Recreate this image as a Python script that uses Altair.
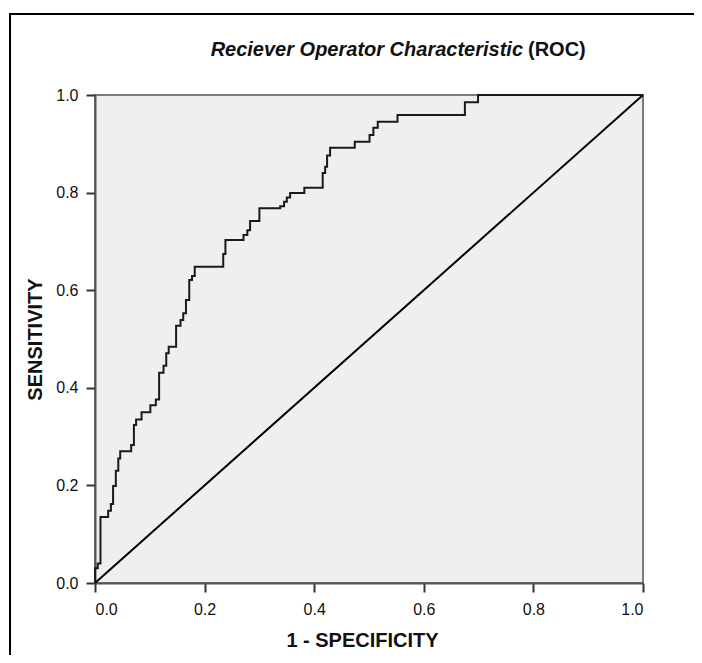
import altair as alt
import pandas as pd

# ROC curve vertices (1 - specificity, sensitivity)
fpr = [0.0, 0.0, 0.005, 0.005, 0.01, 0.01, 0.024, 0.024, 0.029, 0.029, 0.033, 0.033,
       0.038, 0.038, 0.0425, 0.0425, 0.046, 0.046, 0.066, 0.066, 0.071, 0.071, 0.075, 0.075,
       0.085, 0.085, 0.101, 0.101, 0.111, 0.111, 0.117, 0.117, 0.125, 0.125, 0.130, 0.130,
       0.1345, 0.1345, 0.148, 0.148, 0.156, 0.156, 0.161, 0.161, 0.166, 0.166, 0.172, 0.172,
       0.177, 0.177, 0.182, 0.182, 0.234, 0.234, 0.238, 0.238, 0.271, 0.271, 0.278, 0.278,
       0.283, 0.283, 0.300, 0.300, 0.338, 0.338, 0.345, 0.345, 0.350, 0.350, 0.356, 0.356,
       0.382, 0.382, 0.4155, 0.4155, 0.420, 0.420, 0.4235, 0.4235, 0.429, 0.429, 0.474, 0.474,
       0.501, 0.501, 0.508, 0.508, 0.516, 0.516, 0.552, 0.552, 0.675, 0.675, 0.699, 0.699, 1.0]
tpr = [0.0, 0.03, 0.03, 0.04, 0.04, 0.135, 0.135, 0.148, 0.148, 0.162, 0.162, 0.199,
       0.199, 0.230, 0.230, 0.255, 0.255, 0.270, 0.270, 0.283, 0.283, 0.324, 0.324, 0.335,
       0.335, 0.350, 0.350, 0.364, 0.364, 0.376, 0.376, 0.431, 0.431, 0.445, 0.445, 0.471,
       0.471, 0.484, 0.484, 0.527, 0.527, 0.539, 0.539, 0.553, 0.553, 0.580, 0.580, 0.621,
       0.621, 0.629, 0.629, 0.648, 0.648, 0.674, 0.674, 0.703, 0.703, 0.713, 0.713, 0.723,
       0.723, 0.742, 0.742, 0.768, 0.768, 0.772, 0.772, 0.781, 0.781, 0.790, 0.790, 0.799,
       0.799, 0.810, 0.810, 0.840, 0.840, 0.853, 0.853, 0.876, 0.876, 0.892, 0.892, 0.904,
       0.904, 0.918, 0.918, 0.933, 0.933, 0.945, 0.945, 0.959, 0.959, 0.985, 0.985, 1.0, 1.0]

diag_x = [0.0, 1.0]
diag_y = [0.0, 1.0]
tick_values = [0.0, 0.2, 0.4, 0.6, 0.8, 1.0]

title_main = "Reciever Operator Characteristic"
title_tail = "(ROC)"
x_title = "1 - SPECIFICITY"
y_title = "SENSITIVITY"

FONT = "Liberation Sans"

roc = pd.DataFrame({"fpr": fpr, "tpr": tpr, "order": list(range(len(fpr)))})
diag = pd.DataFrame({"fpr": diag_x, "tpr": diag_y})

W, H = 548, 488

x_enc = alt.X("fpr:Q", scale=alt.Scale(domain=[0, 1], nice=False, zero=False),
              axis=alt.Axis(values=tick_values, format=".1f", title=x_title, grid=False,
                            tickSize=9, tickWidth=2, tickColor="#333333",
                            domainColor="#555555", domainWidth=2,
                            labelFont=FONT, labelFontSize=16, labelColor="#111111",
                            labelPadding=9, titleFont=FONT, titleFontSize=20,
                            titleFontWeight="bold", titleColor="#111111",
                            titleX=W / 2 - 7, titleY=57, titleBaseline="middle"))
y_enc = alt.Y("tpr:Q", scale=alt.Scale(domain=[0, 1], nice=False, zero=False),
              axis=alt.Axis(values=tick_values, format=".1f", title=y_title, grid=False,
                            tickSize=9, tickWidth=2, tickColor="#333333",
                            domainColor="#555555", domainWidth=2,
                            labelFont=FONT, labelFontSize=16, labelColor="#111111",
                            labelPadding=8, labelBaseline="middle",
                            titleFont=FONT, titleFontSize=20, titleFontWeight="bold",
                            titleColor="#111111", titleAngle=-90,
                            titleX=-60, titleY=H / 2, titleBaseline="middle"))

curve = alt.Chart(roc).mark_line(color="#1a1a1a", strokeWidth=2).encode(
    x=x_enc, y=y_enc, order="order:Q")
diagonal = alt.Chart(diag).mark_line(color="#000000", strokeWidth=2).encode(
    x="fpr:Q", y="tpr:Q")

one = pd.DataFrame({"k": [0]})
frame = alt.Chart(one).mark_rect(filled=False, stroke="#000000", strokeWidth=2).encode(
    x=alt.value(-85), x2=alt.value(900), y=alt.value(-81), y2=alt.value(900))

t1 = alt.Chart(one).mark_text(font=FONT, fontSize=20, fontWeight="bold", fontStyle="italic",
                              align="right", baseline="middle", color="#111111").encode(
    x=alt.value(428), y=alt.value(-45), text=alt.value(title_main))
t2 = alt.Chart(one).mark_text(font=FONT, fontSize=20, fontWeight="bold",
                              align="left", baseline="middle", color="#111111").encode(
    x=alt.value(433), y=alt.value(-45), text=alt.value(title_tail))

chart = alt.layer(frame, diagonal, curve, t1, t2).properties(
    width=W, height=H,
    autosize=alt.AutoSizeParams(type="none"),
    padding={"left": 87, "top": 87, "right": 51, "bottom": 72},
    background="white",
).configure_view(fill="#efefef", stroke="#7a7a7a", strokeWidth=2)

chart.save("out.html", embed_options={"renderer": "svg", "actions": False})
